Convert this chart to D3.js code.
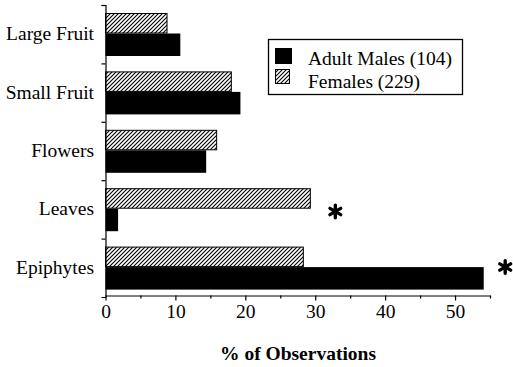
<!DOCTYPE html>
<html>
<head>
<meta charset="utf-8">
<script src="https://cdn.jsdelivr.net/npm/d3@7"></script>
<style>
  html, body { margin: 0; padding: 0; background: #fff; }
  svg { display: block; }
</style>
</head>
<body>
<svg id="chart" width="513" height="367"></svg>
<script>
// Diet categories, top to bottom
const categories = ["Large Fruit", "Small Fruit", "Flowers", "Leaves", "Epiphytes"];
// Percent of feeding observations
const femaleValues = [8.8, 18.0, 15.9, 29.3, 28.3];
const maleValues = [10.7, 19.3, 14.4, 1.8, 54.1];
// Categories with a significant sex difference
const significant = ["Leaves", "Epiphytes"];
const seriesNames = ["Adult Males (104)", "Females (229)"];
const majorTicks = [0, 10, 20, 30, 40, 50];
const minorTicks = [5, 15, 25, 35, 45, 55];
const xTitle = "% of Observations";

const FONT = "'Liberation Serif', 'Times New Roman', Times, serif";
const FS = "19.5px";
const svg = d3.select("#chart").attr("font-family", FONT);

// Diagonal hatching for the female bars
const defs = svg.append("defs");
const pat = defs.append("pattern")
  .attr("id", "hatch")
  .attr("patternUnits", "userSpaceOnUse")
  .attr("width", 4).attr("height", 4);
pat.append("rect").attr("width", 4).attr("height", 4).attr("fill", "#fff");
pat.append("path")
  .attr("d", "M-1,1 L1,-1 M0,4 L4,0 M3,5 L5,3")
  .attr("stroke", "#000").attr("stroke-width", 1.1);

const x = d3.scaleLinear().domain([0, 55]).range([105.5, 490]);
const y = d3.scaleBand().domain(categories).range([5, 297]).paddingInner(0).paddingOuter(0);
const bound = d3.scaleLinear().domain([0, categories.length]).range([5, 297]);

// Bars
const g = svg.append("g");
g.selectAll("rect.female").data(categories).join("rect")
  .attr("class", "female")
  .attr("x", x(0))
  .attr("y", d => y(d) + 8.5)
  .attr("width", (d, i) => x(femaleValues[i]) - x(0))
  .attr("height", 19.5)
  .attr("fill", "url(#hatch)")
  .attr("stroke", "#000").attr("stroke-width", 1);

g.selectAll("rect.male").data(categories).join("rect")
  .attr("class", "male")
  .attr("x", x(0))
  .attr("y", d => y(d) + 28.5)
  .attr("width", (d, i) => x(maleValues[i]) - x(0))
  .attr("height", 22.5)
  .attr("fill", "#000");

// Asterisks beside the significant categories (six-spoked star)
const starPath = (() => {
  const r = 6.2, a = Math.PI / 6;
  const p = d3.path();
  p.moveTo(0, -r); p.lineTo(0, r);
  p.moveTo(-r * Math.cos(a), -r * Math.sin(a)); p.lineTo(r * Math.cos(a), r * Math.sin(a));
  p.moveTo(-r * Math.cos(a), r * Math.sin(a)); p.lineTo(r * Math.cos(a), -r * Math.sin(a));
  return p.toString();
})();
const starOffset = { "Leaves": [25, 31.3], "Epiphytes": [21.5, 28.4] };
svg.selectAll("path.sig").data(significant).join("path")
  .attr("class", "sig")
  .attr("transform", d => {
    const i = categories.indexOf(d);
    const xv = x(Math.max(femaleValues[i], maleValues[i])) + starOffset[d][0];
    return `translate(${xv},${y(d) + starOffset[d][1]})`;
  })
  .attr("d", starPath)
  .attr("fill", "none").attr("stroke", "#000")
  .attr("stroke-width", 3.4).attr("stroke-linecap", "round");

// Y axis with ticks at category boundaries
const yAxis = svg.append("g").attr("transform", `translate(${x(0)},0)`)
  .call(d3.axisLeft(bound).tickValues(d3.range(0, categories.length)).tickSize(4).tickFormat(""));
yAxis.select(".domain").attr("stroke-width", 1.2);
yAxis.selectAll(".tick line").attr("stroke-width", 1.2);

svg.selectAll("text.cat").data(categories).join("text")
  .attr("class", "cat")
  .attr("x", 94)
  .attr("y", d => y(d) + y.bandwidth() / 2 + 6)
  .attr("text-anchor", "end")
  .style("font-size", FS)
  .text(d => d);

// X axis
const xAxis = svg.append("g").attr("transform", "translate(0,295.5)")
  .call(d3.axisBottom(x).tickValues(majorTicks).tickSize(5).tickSizeOuter(0).tickFormat(d3.format("d")));
xAxis.attr("font-family", FONT);
xAxis.select(".domain").attr("stroke-width", 1.2);
xAxis.selectAll(".tick line").attr("stroke-width", 1.2);
xAxis.selectAll(".tick text")
  .attr("y", 22.5).attr("dy", 0)
  .style("font-size", FS);
svg.append("g").attr("transform", "translate(0,295.5)")
  .call(d3.axisBottom(x).tickValues(minorTicks).tickSize(3).tickFormat(""))
  .call(s => s.select(".domain").remove())
  .selectAll(".tick line").attr("stroke-width", 1.2);

svg.append("text")
  .attr("x", 298).attr("y", 360)
  .attr("text-anchor", "middle")
  .style("font-size", FS).style("font-weight", "bold")
  .text(xTitle);

// Legend
const lg = svg.append("g");
lg.append("rect").attr("x", 268.5).attr("y", 39.5).attr("width", 194).attr("height", 55)
  .attr("fill", "#fff").attr("stroke", "#000").attr("stroke-width", 1.3);
lg.append("rect").attr("x", 275).attr("y", 48).attr("width", 17).attr("height", 16).attr("fill", "#000");
lg.append("rect").attr("x", 275.5).attr("y", 69.5).attr("width", 14).attr("height", 14)
  .attr("fill", "url(#hatch)").attr("stroke", "#000").attr("stroke-width", 1);
lg.selectAll("text").data(seriesNames).join("text")
  .attr("x", 308)
  .attr("y", (d, i) => 65 + i * 22.5)
  .style("font-size", FS)
  .text(d => d);
</script>
</body>
</html>
